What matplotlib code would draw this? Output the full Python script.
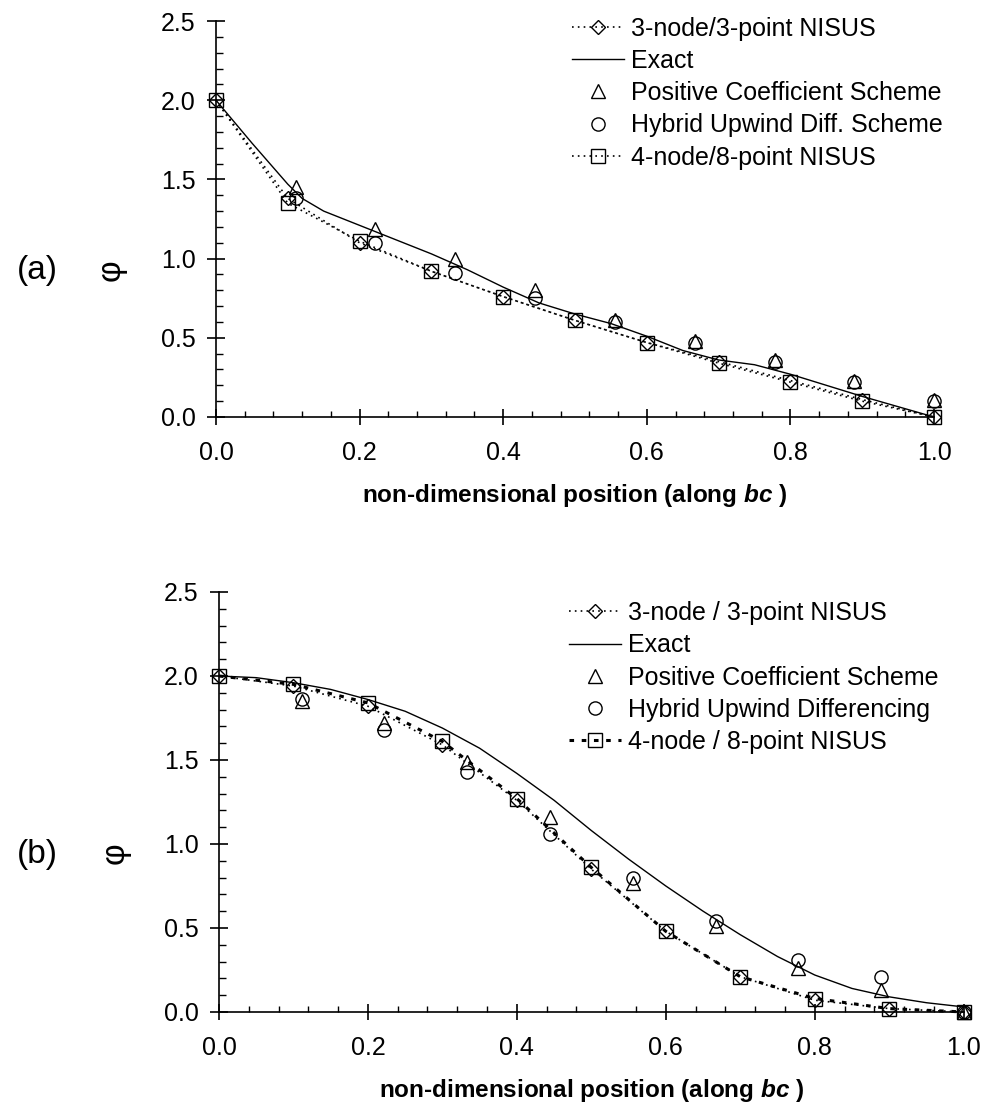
import matplotlib
matplotlib.use('Agg')
import matplotlib.pyplot as plt
from matplotlib.ticker import MultipleLocator

plt.rcParams['font.family'] = ['Liberation Sans', 'DejaVu Sans']
plt.rcParams['mathtext.fontset'] = 'custom'
plt.rcParams['mathtext.it'] = 'Liberation Sans:italic:bold'
plt.rcParams['mathtext.rm'] = 'Liberation Sans:bold'

# x positions
x_nisus = [0.0, 0.1, 0.2, 0.3, 0.4, 0.5, 0.6, 0.7, 0.8, 0.9, 1.0]
x_scheme = [0.111, 0.222, 0.333, 0.444, 0.556, 0.667, 0.778, 0.889, 1.0]
x_exact = [0.0, 0.05, 0.1, 0.12, 0.15, 0.2, 0.25, 0.3, 0.35, 0.4, 0.45, 0.5,
           0.55, 0.6, 0.65, 0.7, 0.75, 0.8, 0.85, 0.9, 0.95, 1.0]
x_exact_b = [0.0, 0.05, 0.1, 0.15, 0.2, 0.25, 0.3, 0.35, 0.4, 0.45, 0.5,
             0.55, 0.6, 0.65, 0.7, 0.75, 0.8, 0.85, 0.9, 0.95, 1.0]

# panel (a)
a_exact = [2.0, 1.73, 1.47, 1.38, 1.30, 1.21, 1.12, 1.03, 0.93, 0.82, 0.72, 0.65,
           0.59, 0.51, 0.42, 0.36, 0.33, 0.27, 0.20, 0.13, 0.065, 0.0]
a_node3 = [2.0, 1.38, 1.10, 0.92, 0.76, 0.61, 0.47, 0.35, 0.23, 0.11, 0.0]
a_node4 = [2.0, 1.35, 1.11, 0.92, 0.76, 0.61, 0.47, 0.34, 0.22, 0.10, 0.0]
a_pcs = [1.45, 1.19, 1.00, 0.80, 0.61, 0.48, 0.36, 0.23, 0.11]
a_hud = [1.38, 1.10, 0.91, 0.75, 0.60, 0.47, 0.35, 0.22, 0.10]
a_labels = ['3-node/3-point NISUS', 'Exact', 'Positive Coefficient Scheme',
            'Hybrid Upwind Diff. Scheme', '4-node/8-point NISUS']

# panel (b)
b_exact = [2.0, 1.99, 1.96, 1.92, 1.86, 1.79, 1.69, 1.57, 1.42, 1.26, 1.08,
           0.91, 0.75, 0.60, 0.46, 0.33, 0.22, 0.14, 0.09, 0.055, 0.03]
b_node3 = [2.0, 1.94, 1.82, 1.59, 1.26, 0.85, 0.48, 0.21, 0.07, 0.02, 0.0]
b_node4 = [2.0, 1.95, 1.84, 1.61, 1.27, 0.86, 0.48, 0.21, 0.08, 0.02, 0.0]
b_pcs = [1.85, 1.72, 1.49, 1.16, 0.77, 0.51, 0.26, 0.13, 0.0]
b_hud = [1.86, 1.68, 1.43, 1.06, 0.80, 0.54, 0.31, 0.21, 0.0]
b_labels = ['3-node / 3-point NISUS', 'Exact', 'Positive Coefficient Scheme',
            'Hybrid Upwind Differencing', '4-node / 8-point NISUS']


def draw_panel(ax, xe, exact, node3, node4, pcs, hud, labels, node4_dashed, leg_anchor):
    ax.plot(x_nisus, node3, color='k', lw=1.2, ls=(0, (1, 2.5)), marker='D', ms=7.5,
            mfc='none', mec='k', mew=1, label=labels[0], clip_on=False)
    ax.plot(xe, exact, color='k', lw=1, ls='-', label=labels[1], clip_on=False)
    ax.plot(x_scheme, pcs, ls='none', marker='^', ms=9.5, mfc='none', mec='k',
            mew=1, label=labels[2], clip_on=False)
    ax.plot(x_scheme, hud, ls='none', marker='o', ms=9.5, mfc='none', mec='k',
            mew=1, label=labels[3], clip_on=False)
    if node4_dashed:
        ax.plot(x_nisus, node4, color='k', lw=2.2, ls=(0, (1.5, 2.5)), marker='s',
                ms=10.5, mfc='none', mec='k', mew=1, label=labels[4], clip_on=False)
    else:
        ax.plot(x_nisus, node4, color='k', lw=1.2, ls=(0, (1, 2.5)), marker='s',
                ms=10.5, mfc='none', mec='k', mew=1, label=labels[4], clip_on=False)

    ax.set_xlim(0, 1)
    ax.set_ylim(0, 2.5)
    ax.xaxis.set_major_locator(MultipleLocator(0.2))
    ax.xaxis.set_minor_locator(MultipleLocator(0.04))
    ax.yaxis.set_major_locator(MultipleLocator(0.5))
    ax.yaxis.set_minor_locator(MultipleLocator(0.1))
    ax.xaxis.set_major_formatter('{x:.1f}')
    ax.yaxis.set_major_formatter('{x:.1f}')
    for s in ['top', 'right']:
        ax.spines[s].set_visible(False)
    for s in ['left', 'bottom']:
        ax.spines[s].set_linewidth(1.2)
    ax.tick_params(axis='y', which='major', direction='inout', length=13,
                   width=1.2, labelsize=18, pad=8)
    ax.tick_params(axis='x', which='major', direction='inout', length=11,
                   width=1.2, labelsize=18, pad=12)
    ax.tick_params(axis='y', which='minor', direction='in', length=5, width=1)
    ax.tick_params(axis='x', which='minor', direction='in', length=4, width=1)
    ax.set_xlabel('non-dimensional position (along $bc$ )', fontsize=17.5,
                  fontweight='bold', labelpad=12)
    ax.set_ylabel('φ', fontsize=24)
    ax.legend(loc='upper left', bbox_to_anchor=leg_anchor,
              bbox_transform=ax.figure.transFigure, frameon=False,
              fontsize=18, handlelength=2.1, handletextpad=0.28,
              labelspacing=0.33, borderpad=0, borderaxespad=0, numpoints=1)


fig = plt.figure(figsize=(9.89, 11.09), dpi=100)
ax_a = fig.add_axes([0.2184, 0.624, 0.726, 0.357])
ax_b = fig.add_axes([0.2214, 0.0875, 0.753, 0.3787])

draw_panel(ax_a, x_exact, a_exact, a_node3, a_node4, a_pcs, a_hud, a_labels,
           False, (0.578, 0.985))
draw_panel(ax_b, x_exact_b, b_exact, b_node3, b_node4, b_pcs, b_hud, b_labels,
           True, (0.575, 0.458))

ax_a.yaxis.set_label_coords(-0.124, 0.371)
ax_b.yaxis.set_label_coords(-0.119, 0.379)

fig.text(0.038, 1 - 270 / 1109, '(a)', fontsize=24, ha='center', va='center')
fig.text(0.038, 1 - 855 / 1109, '(b)', fontsize=24, ha='center', va='center')

fig.savefig('out.png', dpi=100)
